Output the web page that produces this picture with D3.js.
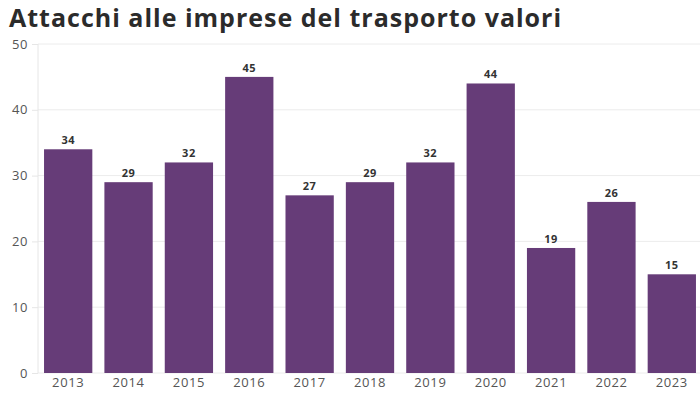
<!DOCTYPE html>
<html>
<head>
<meta charset="utf-8">
<script src="https://cdn.jsdelivr.net/npm/d3@7"></script>
<style>
  body { margin: 0; background: #fff; }
</style>
</head>
<body>
<script>
var years = ["2013","2014","2015","2016","2017","2018","2019","2020","2021","2022","2023"];
var attacks = [34, 29, 32, 45, 27, 29, 32, 44, 19, 26, 15];
var yTicks = [0, 10, 20, 30, 40, 50];

var width = 700, height = 394;
var plotLeft = 38, plotRight = 702, plotTop = 44, plotBottom = 373;

var svg = d3.select("body").append("svg")
    .attr("width", width)
    .attr("height", height);

svg.append("text")
    .attr("x", 9)
    .attr("y", 27)
    .text("Attacchi alle imprese del trasporto valori")
    .attr("font-family", "'Open Sans', sans-serif")
    .attr("font-weight", "700")
    .attr("font-size", "25px")
    .attr("letter-spacing", "1px")
    .attr("fill", "#2b2b2b");

var x = d3.scaleBand().domain(years).range([plotLeft, plotRight]).paddingInner(0.2).paddingOuter(0.1);
var y = d3.scaleLinear().domain([0, 50]).range([plotBottom, plotTop]);

// gridlines
svg.append("g").selectAll("line")
    .data(yTicks)
    .enter()
    .append("line")
    .attr("x1", plotLeft)
    .attr("x2", width)
    .attr("y1", function(d){ return y(d); })
    .attr("y2", function(d){ return y(d); })
    .style("stroke", "#ececec")
    .style("stroke-width", 1);

svg.append("line")
    .attr("x1", plotLeft).attr("x2", plotLeft)
    .attr("y1", plotTop).attr("y2", plotBottom)
    .style("stroke", "#e6e6e6");

var yAxis = svg.append("g")
    .attr("transform", "translate(" + plotLeft + ",0)")
    .call(d3.axisLeft(y).tickValues(yTicks).tickSize(6).tickPadding(4));
yAxis.select(".domain").remove();
yAxis.selectAll("line").style("stroke", "#e6e6e6");
yAxis.selectAll("text")
    .attr("font-family", "'Open Sans', sans-serif")
    .attr("font-size", "13px")
    .attr("letter-spacing", "0.6px")
    .attr("fill", "#555");

svg.append("g").selectAll("rect")
    .data(attacks)
    .enter()
    .append("rect")
    .attr("x", function(d, i){ return x(years[i]); })
    .attr("y", function(d){ return y(d); })
    .attr("width", x.bandwidth())
    .attr("height", function(d){ return y(0) - y(d); })
    .style("fill", "#663c78");

svg.append("g").selectAll("text")
    .data(attacks)
    .enter()
    .append("text")
    .attr("x", function(d, i){ return x(years[i]) + x.bandwidth() / 2; })
    .attr("y", function(d){ return y(d) - 5; })
    .attr("text-anchor", "middle")
    .text(function(d){ return d; })
    .attr("font-family", "'Open Sans', sans-serif")
    .attr("font-weight", "700")
    .attr("font-size", "11px")
    .attr("letter-spacing", "0.5px")
    .attr("fill", "#333");

var xAxis = svg.append("g")
    .attr("transform", "translate(0," + plotBottom + ")")
    .call(d3.axisBottom(x).tickSize(0).tickPadding(5));
xAxis.select(".domain").remove();
xAxis.selectAll("text")
    .attr("font-family", "'Open Sans', sans-serif")
    .attr("font-size", "13px")
    .attr("letter-spacing", "0.6px")
    .attr("fill", "#555");
</script>
</body>
</html>
